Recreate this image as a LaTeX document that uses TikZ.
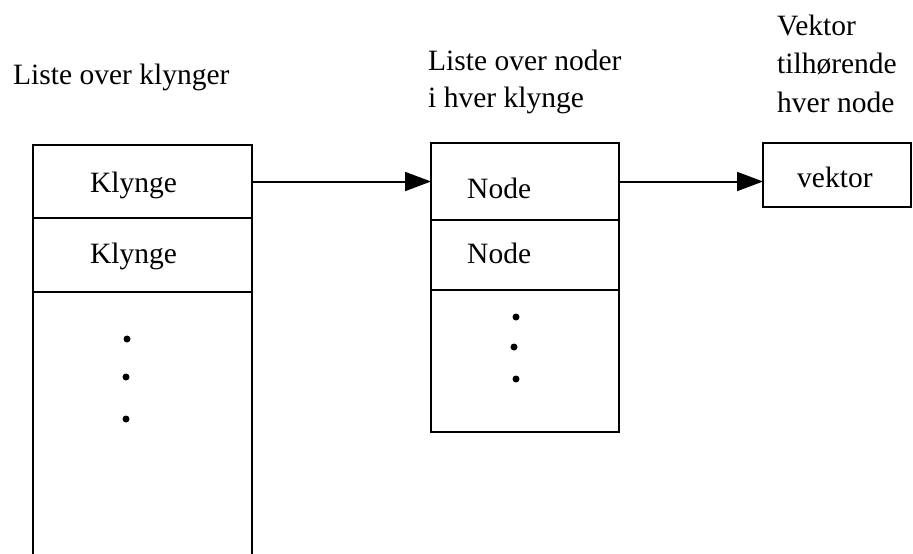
\documentclass[tikz,border=0pt]{standalone}
\usepackage{fontspec}
\setmainfont{Liberation Serif}
\usetikzlibrary{arrows.meta}
\begin{document}
\begin{tikzpicture}[x=1pt,y=-1pt,
  cell/.style={draw,line width=2pt,inner sep=0pt,outer sep=0pt},
  lbl/.style={anchor=base west,inner sep=0pt,font=\fontsize{29.5}{36}\selectfont},
  dotn/.style={circle,fill,inner sep=0pt,minimum size=7pt},
  arr/.style={line width=2pt,-{Triangle[length=26pt,width=19pt]}},
  edge/.style={line width=2pt}]
\useasboundingbox (0,0) rectangle (913,554);
% left column: list of clusters
\node[cell,minimum width=219pt,minimum height=73pt] (k1) at (142.5,181.5) {};
\node[cell,minimum width=219pt,minimum height=74pt] (k2) at (142.5,255) {};
\coordinate (kbotL) at (33,556);
\coordinate (kbotR) at (252,556);
\draw[edge] (k2.south west) -- (kbotL);
\draw[edge] (k2.south east) -- (kbotR);
\node[lbl] (k1t) at (90,192) {Klynge};
\node[lbl] (k2t) at (90,263) {Klynge};
\node[dotn] (kd1) at (127,339) {};
\node[dotn] (kd2) at (126,377) {};
\node[dotn] (kd3) at (126,419) {};
% middle column: list of nodes
\node[cell,minimum width=188pt,minimum height=77pt] (n1) at (525,181.5) {};
\node[cell,minimum width=188pt,minimum height=70pt] (n2) at (525,255) {};
\node[cell,minimum width=188pt,minimum height=142pt] (n3) at (525,361) {};
\node[lbl] (n1t) at (467,198) {Node};
\node[lbl] (n2t) at (467,263) {Node};
\node[dotn] (nd1) at (516,317) {};
\node[dotn] (nd2) at (514,347) {};
\node[dotn] (nd3) at (516,379) {};
% right: vector
\node[cell,minimum width=148pt,minimum height=64pt] (vek) at (837,175) {};
\node[lbl] (vekt) at (797,187) {vektor};
% headings
\node[lbl] (h1) at (13,84) {Liste over klynger};
\node[lbl] (h2a) at (428,70) {Liste over noder};
\node[lbl] (h2b) at (428,107) {i hver klynge};
\node[lbl] (h3a) at (777,35) {Vektor};
\node[lbl] (h3b) at (777,73) {tilhørende};
\node[lbl] (h3c) at (777,112) {hver node};
% connectors
\draw[arr] (k1.east) -- (k1.east -| n1.west);
\draw[arr] (n1.east) -- (n1.east -| vek.west);
\end{tikzpicture}
\end{document}
